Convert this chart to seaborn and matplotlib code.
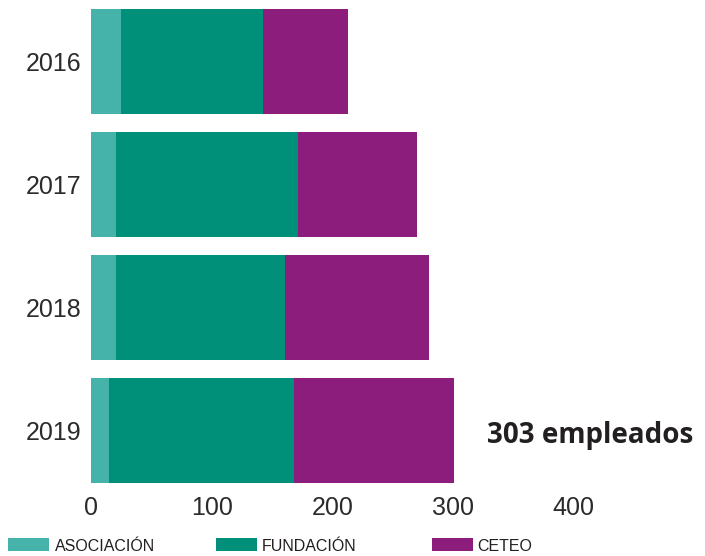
import matplotlib
matplotlib.use("Agg")
import matplotlib.pyplot as plt
import seaborn as sns
import pandas as pd
import numpy as np
from matplotlib.patches import Rectangle

years = ["2016", "2017", "2018", "2019"]
asociacion = [25, 21, 21, 15]
fundacion = [118, 151, 140, 153]
ceteo = [70, 98, 119, 133]
series_names = ["ASOCIACIÓN", "FUNDACIÓN", "CETEO"]
colors = ["#45b3a9", "#00907a", "#8c1d7d"]
xticks = [0, 100, 200, 300, 400]
total_label = "303 empleados"

sns.set_theme(style="white")
plt.rcParams['font.family'] = ['Liberation Sans', 'DejaVu Sans']

df = pd.DataFrame({"year": years, "a": asociacion, "f": fundacion, "c": ceteo})
df["cum_a"] = df["a"]
df["cum_f"] = df["a"] + df["f"]
df["cum_c"] = df["a"] + df["f"] + df["c"]

fig = plt.figure(figsize=(7.05, 5.56), dpi=100)
ax = fig.add_axes([91 / 705, 64 / 556, 518.6 / 705, 492 / 556])

for col, color in zip(["cum_c", "cum_f", "cum_a"], [colors[2], colors[1], colors[0]]):
    sns.barplot(data=df, x=col, y="year", orient="h", color=color, width=0.86,
                saturation=1, ax=ax, linewidth=0)

ax.set_xlim(0, 430)
ax.set_ylim(3.5, -0.5)
ax.set_xticks(xticks)
ax.set_xticklabels([str(t) for t in xticks])
ax.set_xlabel("")
ax.set_ylabel("")
for s in ax.spines.values():
    s.set_visible(False)
ax.tick_params(axis="x", length=0, pad=3, labelsize=18, labelcolor="#2b2b2b")
ax.tick_params(axis="y", length=0, pad=7, labelsize=18, labelcolor="#2b2b2b")
ax.grid(False)

ax.text(328, 3.04, total_label, ha="left", va="center", fontsize=20,
        fontweight="bold", color="#231f20", family=["Open Sans", "DejaVu Sans"],
        clip_on=False)

# legend
W, H = 705, 556
patch_x = [8, 216, 432]
text_x = [55, 262, 477]
for px, tx, name, color in zip(patch_x, text_x, series_names, colors):
    fig.add_artist(Rectangle((px / W, (H - 551) / H), 41 / W, 13 / H,
                             transform=fig.transFigure, color=color, lw=0))
    fig.text(tx / W, (H - 551) / H, name, ha="left", va="baseline",
             fontsize=11.5, color="#231f20")

fig.savefig("out.png", dpi=100)
